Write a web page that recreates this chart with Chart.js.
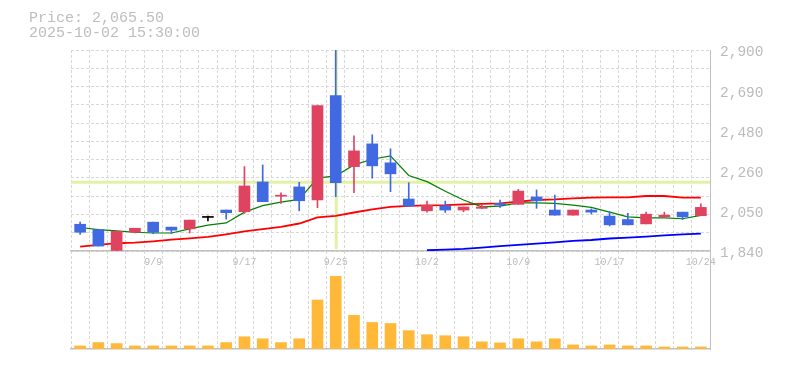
<!DOCTYPE html>
<html>
<head>
<meta charset="utf-8">
<script src="https://cdn.jsdelivr.net/npm/chart.js@4.4.1/dist/chart.umd.min.js"></script>
<style>
html,body{margin:0;padding:0;background:#fff;width:785px;height:370px;overflow:hidden;}
#title{position:absolute;left:29px;top:11px;font:15px/15px "Liberation Mono",monospace;color:#bdbdbd;white-space:pre;z-index:3;}
#pw{position:absolute;left:0;top:0;width:785px;height:271px;z-index:2;}
#vw{position:absolute;left:0;top:251px;width:785px;height:119px;z-index:1;}
</style>
</head>
<body>
<div id="vw"><canvas id="vol"></canvas></div>
<div id="pw"><canvas id="price"></canvas></div>
<div id="title">Price: 2,065.50
2025-10-02 15:30:00</div>
<script>
// ---- data ----
const dates = ['9/3','9/4','9/5','9/8','9/9','9/10','9/11','9/12','9/16','9/17',
  '9/18','9/19','9/22','9/24','9/25','9/26','9/29','9/30','10/1','10/2',
  '10/3','10/6','10/7','10/8','10/9','10/10','10/14','10/15','10/16','10/17',
  '10/20','10/21','10/22','10/23','10/24'];
const tickLabels = ['9/9','9/17','9/25','10/2','10/9','10/17','10/24'];

const opens  = [1981,1953,1843,1939,1992,1966,1957,2017,2056,2047,2204,2129,2178,2110,2660,2285,2405,2305,2114,2052,2078,2056,2065,2091,2086,2125,2056,2029,2056,2024,2006,1983,2020,2045,2026];
const closes = [1939,1866,1944,1960,1939,1950,2003,2017,2042,2183,2100,2131,2105,2607,2200,2368,2289,2247,2077,2081,2056,2072,2072,2082,2156,2105,2029,2056,2045,1978,1978,2034,2029,2020,2070];
const highs  = [1992,1955,1944,1960,1992,1966,2003,2024,2056,2285,2294,2147,2202,2607,2900,2448,2453,2379,2200,2103,2103,2072,2086,2109,2165,2162,2135,2056,2062,2047,2038,2045,2045,2045,2089];
const lows   = [1928,1866,1840,1936,1932,1932,1935,1999,2008,2038,2100,2091,2052,2068,2126,2147,2224,2153,2077,2045,2043,2047,2063,2070,2086,2065,2029,2029,2035,1972,1978,1983,2017,2006,2026];

const ma5  = [1964,1953,1946,1939,1935,1935,1957,1976,1988,2045,2079,2098,2112,2224,2236,2294,2324,2342,2238,2206,2155,2109,2073,2077,2094,2094,2091,2082,2070,2045,2020,2015,2015,2010,2028];
const ma25 = [1863,1872,1881,1884,1891,1900,1907,1914,1928,1944,1955,1967,1985,2017,2025,2043,2059,2073,2078,2081,2082,2086,2089,2091,2100,2109,2112,2118,2121,2123,2123,2130,2130,2121,2121];
const ma75 = [null,null,null,null,null,null,null,null,null,null,null,null,null,null,null,null,null,null,null,
  1844,1847,1851,1858,1866,1872,1879,1886,1893,1898,1906,1911,1916,1922,1928,1932];

const volumes = [30000,63000,53000,30000,30000,30000,30000,30000,63000,120000,100000,63000,100000,480000,713000,330000,260000,250000,180000,140000,130000,120000,70000,60000,100000,70000,100000,40000,30000,40000,30000,30000,20000,20000,20000];

const priceMin = 1840;
const priceMax = 2900;
const priceTickLabels = ['1,840','2,050','2,260','2,480','2,690','2,900'];
const volumeMax = 960000;

const crossIndex = 14;     // 9/25
const crossPrice = 2202;

// ---- styles ----
const upColor = '#e0435f';
const downColor = '#4169e1';
const flatColor = '#000000';
const volColor = '#ffb838';
const gridColor = '#d8d8d8';
const axisColor = '#c0c0c0';
const textColor = '#bbbbbb';
const crossColor = '#e1f2a6';

Chart.defaults.font.family = '"Liberation Mono", monospace';

const candleColors = opens.map((o, i) => closes[i] > o ? upColor : (closes[i] < o ? downColor : flatColor));
const bodies = opens.map((o, i) => [o, closes[i]]);
const wicks = lows.map((l, i) => [l, highs[i]]);

const crosshairPlugin = {
  id: 'crosshair',
  beforeDatasetsDraw(chart) {
    const {ctx, chartArea: a} = chart;
    const x = chart.scales.x, y = chart.scales.y;
    const cx = x.getPixelForValue(crossIndex) + 0.5;
    const cy = y.getPixelForValue(crossPrice);
    ctx.save();
    ctx.strokeStyle = crossColor;
    ctx.lineWidth = 3;
    ctx.beginPath();
    ctx.moveTo(a.left, cy); ctx.lineTo(a.right, cy);
    ctx.moveTo(cx, a.top); ctx.lineTo(cx, a.bottom - 2);
    ctx.stroke();
    ctx.restore();
  }
};

new Chart(document.getElementById('price'), {
  type: 'bar',
  data: {
    labels: dates,
    datasets: [
      { type: 'bar', data: bodies, backgroundColor: candleColors, barThickness: 11, minBarLength: 1,
        grouped: false, order: 0, xAxisID: 'x', yAxisID: 'y', borderWidth: 0 },
      { type: 'bar', data: wicks, backgroundColor: candleColors, barThickness: 1,
        grouped: false, order: 1, xAxisID: 'x', yAxisID: 'y', borderWidth: 0 },
      { type: 'line', data: ma5, borderColor: '#008000', borderWidth: 1.2, pointRadius: 0, tension: 0,
        order: 2, xAxisID: 'x', yAxisID: 'y' },
      { type: 'line', data: ma25, borderColor: '#ff0000', borderWidth: 1.8, pointRadius: 0, tension: 0,
        order: 3, xAxisID: 'x', yAxisID: 'y' },
      { type: 'line', data: ma75, borderColor: '#0000ff', borderWidth: 1.8, pointRadius: 0, tension: 0,
        order: 4, xAxisID: 'x', yAxisID: 'y' }
    ]
  },
  options: {
    responsive: true, maintainAspectRatio: false, animation: false, events: [],
    layout: { padding: { left: 71, right: 0, top: 50, bottom: 0 } },
    plugins: { legend: { display: false }, tooltip: { enabled: false } },
    scales: {
      x: {
        offset: true,
        grid: { offset: true, color: gridColor, lineWidth: 1, drawTicks: false },
        border: { display: true, color: axisColor, width: 1.5, dash: [3, 2] },
        ticks: { autoSkip: false, maxRotation: 0, minRotation: 0, padding: 5, color: textColor,
          font: { size: 10 },
          callback: (v, i) => tickLabels.includes(dates[i]) ? dates[i] : '' },
        afterFit: s => { s.height = 20; }
      },
      yg: {
        type: 'linear', position: 'left', min: 0, max: 11,
        grid: { color: gridColor, lineWidth: 1, drawTicks: false },
        border: { display: false, dash: [3, 2] },
        ticks: { display: false, stepSize: 1 },
        afterFit: s => { s.width = 0; }
      },
      y: {
        type: 'linear', position: 'right', min: priceMin, max: priceMax,
        grid: { display: false, drawTicks: false },
        border: { display: true, color: axisColor, width: 1 },
        ticks: { count: 6, padding: 10, labelOffset: 2.5, color: textColor, font: { size: 14.5 },
          callback: (v, i) => priceTickLabels[i] },
        afterFit: s => { s.width = 75; }
      }
    }
  },
  plugins: [crosshairPlugin]
});

new Chart(document.getElementById('vol'), {
  type: 'bar',
  data: {
    labels: dates,
    datasets: [
      { data: volumes, backgroundColor: volColor, barThickness: 11, borderWidth: 0, xAxisID: 'x', yAxisID: 'y' }
    ]
  },
  options: {
    responsive: true, maintainAspectRatio: false, animation: false, events: [],
    layout: { padding: { left: 71, right: 0, top: 0, bottom: 21 } },
    plugins: { legend: { display: false }, tooltip: { enabled: false } },
    scales: {
      x: {
        offset: true,
        grid: { offset: true, color: gridColor, lineWidth: 1, drawTicks: false },
        border: { display: true, color: axisColor, width: 1.5, dash: [3, 2] },
        ticks: { display: false },
        afterFit: s => { s.height = 0; }
      },
      y: {
        type: 'linear', position: 'right', min: 0, max: volumeMax,
        grid: { display: false, drawTicks: false },
        border: { display: true, color: axisColor, width: 1 },
        ticks: { display: false },
        afterFit: s => { s.width = 75; }
      }
    }
  }
});
</script>
</body>
</html>
